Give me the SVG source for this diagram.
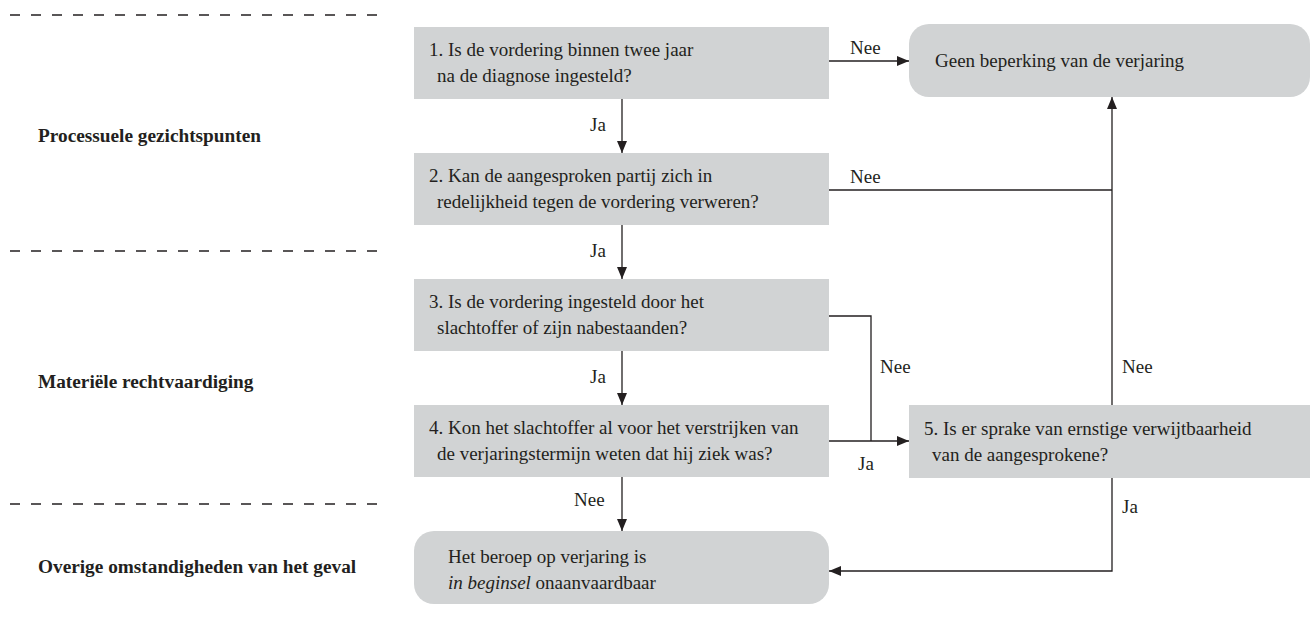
<svg xmlns="http://www.w3.org/2000/svg" width="1310" height="629" viewBox="0 0 1310 629">
<style>
.box{fill:#d1d3d4}
.t{font-family:"Liberation Serif","DejaVu Serif",serif;font-size:19px;fill:#231f20}
.lbl{font-family:"Liberation Serif","DejaVu Serif",serif;font-size:19.3px;font-weight:bold;fill:#231f20}
.c{stroke:#231f20;stroke-width:1.3;fill:none}
.dash{stroke:#231f20;stroke-width:1.3;stroke-dasharray:10 11}
</style>
<defs>
<marker id="ah" viewBox="0 0 12 10" refX="12" refY="5" markerWidth="12" markerHeight="10" markerUnits="userSpaceOnUse" orient="auto">
<path d="M0,0 L12,5 L0,10 Z" fill="#231f20"/>
</marker>
</defs>
<rect width="1310" height="629" fill="#ffffff"/>
<g id="sections">
<line class="dash" x1="10" y1="15" x2="380" y2="15"/>
<line class="dash" x1="10" y1="251" x2="380" y2="251"/>
<line class="dash" x1="10" y1="504" x2="380" y2="504"/>
<text class="lbl" x="38" y="142">Processuele gezichtspunten</text>
<text class="lbl" x="38" y="388">Materiële rechtvaardiging</text>
<text class="lbl" x="38" y="573">Overige omstandigheden van het geval</text>
</g>
<g id="connectors">
<line class="c" x1="829" y1="61" x2="909" y2="61" marker-end="url(#ah)"/>
<text class="t" x="850" y="54">Nee</text>
<line class="c" x1="622" y1="99" x2="622" y2="153" marker-end="url(#ah)"/>
<text class="t" x="590" y="131">Ja</text>
<line class="c" x1="829" y1="190" x2="1112" y2="190"/>
<text class="t" x="850" y="183">Nee</text>
<line class="c" x1="622" y1="225" x2="622" y2="279" marker-end="url(#ah)"/>
<text class="t" x="590" y="257">Ja</text>
<polyline class="c" points="829,316 871,316 871,441"/>
<text class="t" x="880" y="373">Nee</text>
<line class="c" x1="622" y1="351" x2="622" y2="405" marker-end="url(#ah)"/>
<text class="t" x="590" y="383">Ja</text>
<line class="c" x1="829" y1="441" x2="909" y2="441" marker-end="url(#ah)"/>
<text class="t" x="858" y="470">Ja</text>
<line class="c" x1="1112" y1="405" x2="1112" y2="97" marker-end="url(#ah)"/>
<text class="t" x="1122" y="373">Nee</text>
<line class="c" x1="622" y1="477" x2="622" y2="531" marker-end="url(#ah)"/>
<text class="t" x="574" y="506">Nee</text>
<polyline class="c" points="1112,477 1112,571 829,571" marker-end="url(#ah)"/>
<text class="t" x="1122" y="513">Ja</text>
</g>
<g id="q1">
<rect class="box" x="414" y="27" width="415" height="72"/>
<text class="t" x="429" y="56">1. Is de vordering binnen twee jaar</text>
<text class="t" x="437" y="82">na de diagnose ingesteld?</text>
</g>
<g id="q2">
<rect class="box" x="414" y="153" width="415" height="72"/>
<text class="t" x="429" y="182">2. Kan de aangesproken partij zich in</text>
<text class="t" x="437" y="208">redelijkheid tegen de vordering verweren?</text>
</g>
<g id="q3">
<rect class="box" x="414" y="279" width="415" height="72"/>
<text class="t" x="429" y="308">3. Is de vordering ingesteld door het</text>
<text class="t" x="437" y="334">slachtoffer of zijn nabestaanden?</text>
</g>
<g id="q4">
<rect class="box" x="414" y="405" width="415" height="72"/>
<text class="t" x="429" y="434">4. Kon het slachtoffer al voor het verstrijken van</text>
<text class="t" x="437" y="460">de verjaringstermijn weten dat hij ziek was?</text>
</g>
<g id="q5">
<rect class="box" x="909" y="405" width="401" height="73"/>
<text class="t" x="924" y="435">5. Is er sprake van ernstige verwijtbaarheid</text>
<text class="t" x="932" y="461">van de aangesprokene?</text>
</g>
<g id="geen">
<rect class="box" x="909" y="24" width="401" height="73" rx="20"/>
<text class="t" x="935" y="67">Geen beperking van de verjaring</text>
</g>
<g id="onaanvaardbaar">
<rect class="box" x="414" y="531" width="415" height="73" rx="20"/>
<text class="t" x="448" y="563">Het beroep op verjaring is</text>
<text class="t" x="448" y="589"><tspan font-style="italic">in beginsel</tspan> onaanvaardbaar</text>
</g>
</svg>
